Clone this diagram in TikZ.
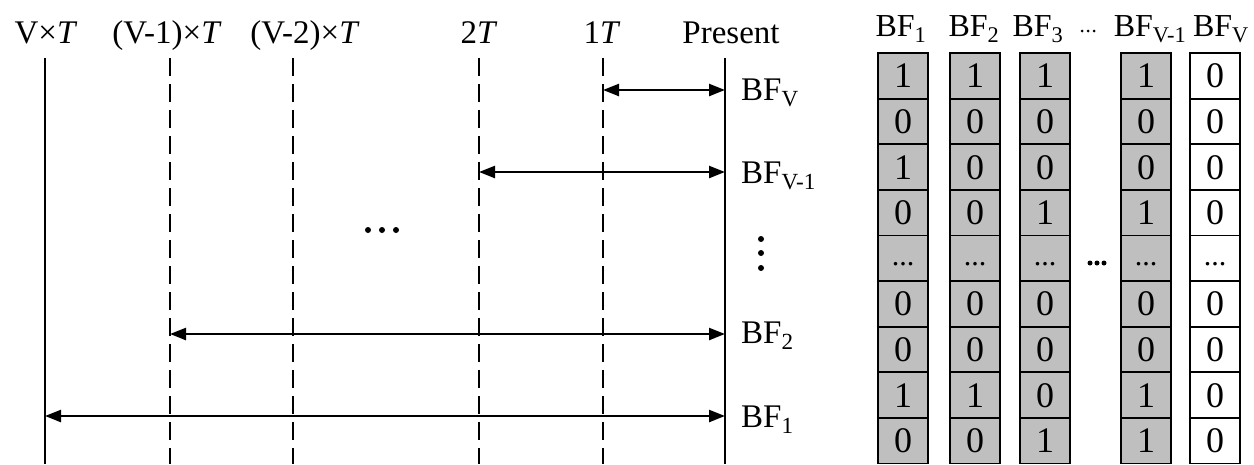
\documentclass[tikz,border=0pt]{standalone}
\usepackage{fontspec}
\setmainfont{Liberation Serif}
\usetikzlibrary{arrows.meta}
\begin{document}
\begin{tikzpicture}[x=1pt,y=-1pt,
  lbl/.style={font=\fontsize{33}{38}\selectfont, inner sep=0pt, anchor=base},
  rlbl/.style={font=\fontsize{33}{38}\selectfont, inner sep=0pt, anchor=base west},
  hlbl/.style={font=\fontsize{32}{38}\selectfont, inner sep=0pt, anchor=base},
  solidline/.style={line width=1.6pt},
  dashline/.style={line width=1.6pt, dash pattern=on 18pt off 8pt},
  span/.style={line width=2.4pt, {Triangle[length=16pt,width=12pt]}-{Triangle[length=16pt,width=12pt]}},
  cell/.style={draw, line width=1.8pt, minimum width=50pt, minimum height=45.6pt, inner sep=0pt,
    text height=24pt, text depth=0pt, font=\fontsize{36}{40}\selectfont},
  gcell/.style={cell, fill=black!25},
  wcell/.style={cell, fill=white},
  dot/.style={circle, fill=black, inner sep=0pt, minimum size=#1}]
\useasboundingbox (0,0) rectangle (1254,464);

% vertical time lines
\foreach \n/\x/\s in {v/45/solidline, a/170/dashline, b/293/dashline, c/479/dashline, d/603/dashline, p/725/solidline}{
  \coordinate (\n-top) at (\x,58);
  \coordinate (\n-bot) at (\x,464);
  \draw[\s] (\n-top) -- (\n-bot);
}

% top labels
\node[lbl] (lv) at (46,43) {V×\textit{T}};
\node[lbl] (la) at (167,43) {(V-1)×\textit{T}};
\node[lbl] (lb) at (305,43) {(V-2)×\textit{T}};
\node[lbl] (lc) at (479,43) {2\textit{T}};
\node[lbl] (ld) at (602,43) {1\textit{T}};
\node[lbl] (lp) at (731,43) {Present};

% spans
\coordinate (sV-a) at (603,90);  \coordinate (sV-b) at (725,90);
\coordinate (sW-a) at (479,172); \coordinate (sW-b) at (725,172);
\coordinate (s2-a) at (170,334); \coordinate (s2-b) at (725,334);
\coordinate (s1-a) at (45,416);  \coordinate (s1-b) at (725,416);
\draw[span] (sV-a) -- (sV-b);
\draw[span] (sW-a) -- (sW-b);
\draw[span] (s2-a) -- (s2-b);
\draw[span] (s1-a) -- (s1-b);

\node[rlbl] (bfV) at (741,100) {BF\textsubscript{V}};
\node[rlbl] (bfW) at (741,183) {BF\textsubscript{V-1}};
\node[rlbl] (bf2) at (741,343) {BF\textsubscript{2}};
\node[rlbl] (bf1) at (741,427) {BF\textsubscript{1}};

% ellipses
\foreach \i/\x in {1/368,2/382,3/396}{ \node[dot=6pt] (hd\i) at (\x,230) {}; }
\foreach \i/\y in {1/239,2/253,3/268}{ \node[dot=6pt] (vd\i) at (761,\y) {}; }

% table headers
\node[hlbl] (h1) at (901,36) {BF\textsubscript{1}};
\node[hlbl] (h2) at (974,36) {BF\textsubscript{2}};
\node[hlbl] (h3) at (1038,36) {BF\textsubscript{3}};
\foreach \i/\x in {1/1082,2/1088,3/1094}{ \node[dot=3pt] (hh\i) at (\x,31) {}; }
\node[hlbl] (h4) at (1150,36) {BF\textsubscript{V-1}};
\node[hlbl] (h5) at (1221,36) {BF\textsubscript{V}};

% table cells (row 5 holds an ellipsis)
\foreach \c/\x/\st/\a/\b/\cc/\d/\e/\f/\g/\h in {
  1/903/gcell/1/0/1/0/0/0/1/0,
  2/975/gcell/1/0/0/0/0/0/1/0,
  3/1045/gcell/1/0/0/1/0/0/0/1,
  4/1146/gcell/1/0/0/1/0/0/1/1,
  5/1215/wcell/0/0/0/0/0/0/0/0}{
  \node[\st] (c\c-1) at (\x,{53+45.6*0.5}) {\a};
  \node[\st] (c\c-2) at (\x,{53+45.6*1.5}) {\b};
  \node[\st] (c\c-3) at (\x,{53+45.6*2.5}) {\cc};
  \node[\st] (c\c-4) at (\x,{53+45.6*3.5}) {\d};
  \node[\st, text height=14pt, font=\fontsize{30}{36}\selectfont] (c\c-5) at (\x,{53+45.6*4.5}) {...};
  \node[\st] (c\c-6) at (\x,{53+45.6*5.5}) {\e};
  \node[\st] (c\c-7) at (\x,{53+45.6*6.5}) {\f};
  \node[\st] (c\c-8) at (\x,{53+45.6*7.5}) {\g};
  \node[\st] (c\c-9) at (\x,{53+45.6*8.5}) {\h};
}

% dots between columns
\foreach \i/\x in {1/1090,2/1097,3/1104}{ \node[dot=5pt] (md\i) at (\x,263) {}; }
\end{tikzpicture}
\end{document}
